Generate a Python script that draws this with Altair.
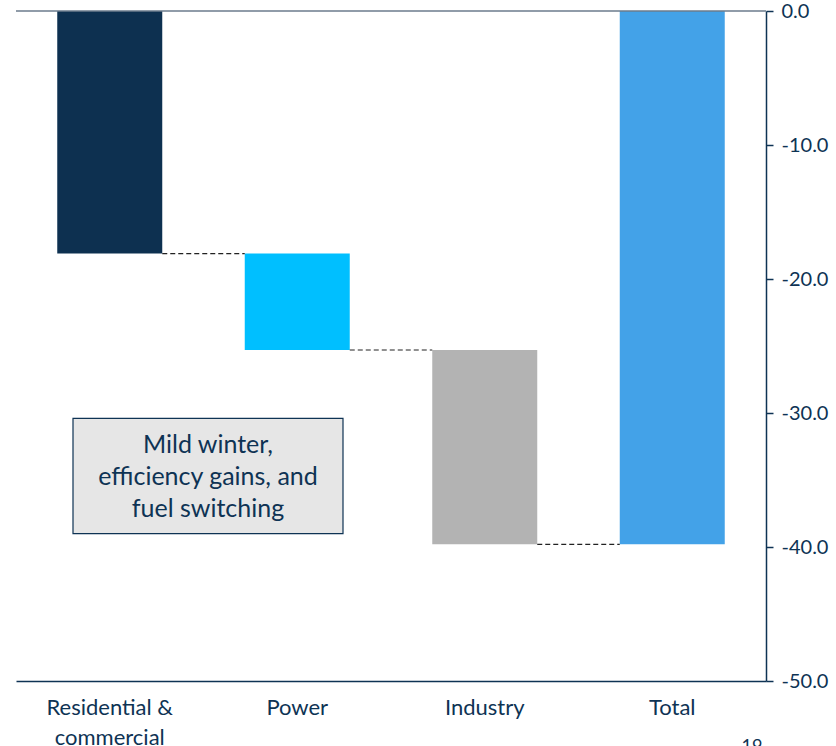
import altair as alt
import pandas as pd

categories = ["Residential & commercial", "Power", "Industry", "Total"]
starts = [0.0, -18.1, -25.3, 0.0]
ends = [-18.1, -25.3, -39.8, -39.8]
colors = ["#0D3050", "#00BFFF", "#B3B3B3", "#43A2E8"]
tick_values = [0, -10, -20, -30, -40, -50]

note_lines = ["Mild winter,", "efficiency gains, and", "fuel switching"]
note_top = -30.4
note_bottom = -39.0

NAVY = "#0E3354"
FONT = "Lato"

bars_df = pd.DataFrame({"cat": categories, "start": starts, "end": ends, "color": colors})
conn_df = pd.DataFrame({
    "from": categories[:-1],
    "to": categories[1:],
    "level": ends[:-1],
})

xscale = alt.Scale(domain=categories, paddingInner=0.44, paddingOuter=0.22)
yscale = alt.Scale(domain=[-50, 0], nice=False, zero=False)

bars = alt.Chart(bars_df).mark_bar().encode(
    x=alt.X("cat:N", scale=xscale, sort=categories, title=None,
            axis=alt.Axis(orient="bottom", labelAngle=0, ticks=False,
                          domainColor=NAVY, domainWidth=1.5,
                          labelColor=NAVY, labelFont=FONT, labelFontSize=22,
                          labelPadding=16, labelLineHeight=30,
                          labelExpr="datum.value == 'Residential & commercial' ? ['Residential &', 'commercial'] : datum.value")),
    y=alt.Y("start:Q", scale=yscale, title=None,
            axis=alt.Axis(orient="right", values=tick_values,
                          labelExpr="datum.value < 0 ? '-' + format(-datum.value, '.1f') : format(datum.value, '.1f')",
                          grid=False, domainColor=NAVY, domainWidth=1.5,
                          tickColor=NAVY, tickSize=7, tickWidth=1.5,
                          labelColor=NAVY, labelFont=FONT, labelFontSize=20, labelPadding=8)),
    y2="end:Q",
    color=alt.Color("color:N", scale=None),
)

zero_rule = alt.Chart(pd.DataFrame({"v": [0]})).mark_rule(color="#6B7B8C", strokeWidth=1.5).encode(
    y=alt.Y("v:Q", scale=yscale),
    x=alt.value(0), x2=alt.value(750),
)

connectors = alt.Chart(conn_df).mark_rule(color="#222222", strokeDash=[5, 3], strokeWidth=1.2).encode(
    x=alt.X("from:N", scale=xscale, sort=categories, bandPosition=1),
    x2=alt.X2("to:N", bandPosition=0),
    y=alt.Y("level:Q", scale=yscale),
)

box_df = pd.DataFrame({"top": [note_top], "bottom": [note_bottom]})
box = alt.Chart(box_df).mark_rect(fill="#E6E6E6", stroke=NAVY, strokeWidth=1.2).encode(
    x=alt.value(57), x2=alt.value(327),
    y=alt.Y("top:Q", scale=yscale), y2="bottom:Q",
)

note_df = pd.DataFrame({"t": [note_lines]})
note = alt.Chart(note_df).mark_text(
    font=FONT, fontSize=25, color=NAVY, lineHeight=32, baseline="middle", align="center"
).encode(
    x=alt.value(192),
    y=alt.value(434),
    text="t",
)

page = alt.Chart(pd.DataFrame({"p": ["19"]})).mark_text(
    font=FONT, fontSize=18, color=NAVY, baseline="top", align="center"
).encode(x=alt.value(736), y=alt.value(727), text="p")

chart = alt.layer(bars, zero_rule, connectors, box, note, page).properties(
    width=750, height=670,
    padding={"left": 16, "top": 11, "right": 70, "bottom": 65},
    autosize=alt.AutoSizeParams(type="none"),
    background="white",
).configure_view(stroke=None)

chart.save("out.html", embed_options={"renderer": "svg", "actions": False})
